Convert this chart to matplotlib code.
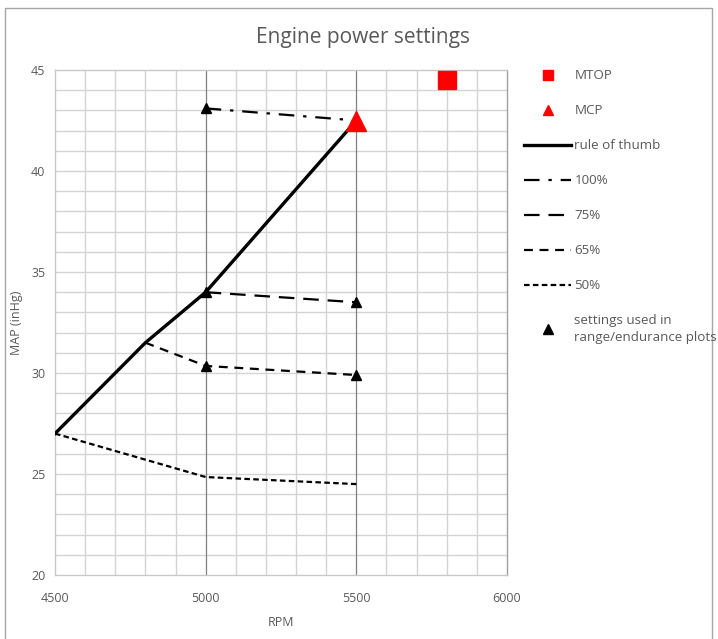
import matplotlib
matplotlib.use('Agg')
import matplotlib.pyplot as plt
from matplotlib.patches import Rectangle
from matplotlib.lines import Line2D
import numpy as np

plt.rcParams['font.family'] = ['Open Sans', 'DejaVu Sans']

# data
rot_rpm = [4500, 4800, 5000, 5500]
rot_map = [27.0, 31.5, 34.0, 42.5]
p100_rpm = [5000, 5500]
p100_map = [43.1, 42.5]
p75_rpm = [5000, 5500]
p75_map = [34.0, 33.5]
p65_rpm = [4800, 5000, 5500]
p65_map = [31.5, 30.35, 29.9]
p50_rpm = [4500, 5000, 5500]
p50_map = [27.0, 24.85, 24.5]
used_rpm = [5000, 5000, 5000, 5500, 5500]
used_map = [43.1, 34.0, 30.35, 33.5, 29.9]
mtop_rpm, mtop_map = [5800], [44.5]
mcp_rpm, mcp_map = [5500], [42.5]

txt = '#595959'
fig = plt.figure(figsize=(7.18, 6.39), dpi=100)
ax = fig.add_axes([55/718, 1-575/639, 452/718, 505/639])

# grid
for x in np.arange(4600, 6000, 100):
    if x % 500 == 0:
        ax.axvline(x, color='#808080', lw=0.9, zorder=1)
    else:
        ax.axvline(x, color='#d4d4d4', lw=1.0, zorder=0)
for y in np.arange(21, 45, 1):
    ax.axhline(y, color='#d4d4d4', lw=1.0, zorder=0)
for s in ax.spines.values():
    s.set_color('#c8c8c8')
    s.set_linewidth(1.0)
ax.spines['right'].set_color('#a0a0a0')

ax.plot(mtop_rpm, mtop_map, 's', color='#ff0000', ms=13.5, zorder=5)
ax.plot(rot_rpm, rot_map, '-', color='black', lw=2.4, zorder=3)
ax.plot(p100_rpm, p100_map, color='black', lw=1.6, dashes=[7, 4, 1.5, 4], zorder=3)
ax.plot(p75_rpm, p75_map, color='black', lw=1.6, dashes=[7, 4], zorder=3)
ax.plot(p65_rpm, p65_map, color='black', lw=1.6, dashes=[4, 3], zorder=3)
ax.plot(p50_rpm, p50_map, color='black', lw=1.6, dashes=[2.5, 1.5], zorder=3)
ax.plot(used_rpm, used_map, '^', color='black', ms=7, zorder=4)
ax.plot(mcp_rpm, mcp_map, '^', color='#ff0000', ms=14, zorder=5)

ax.set_xlim(4500, 6000)
ax.set_ylim(20, 45)
ax.set_xticks([4500, 5000, 5500, 6000])
ax.set_yticks([20, 25, 30, 35, 40, 45])
ax.tick_params(length=0, labelsize=9, labelcolor=txt)
ax.tick_params(axis='x', pad=12)
ax.tick_params(axis='y', pad=7)
ax.set_xlabel('RPM', fontsize=9, color=txt, labelpad=8)
ax.set_ylabel('MAP (inHg)', fontsize=9, color=txt, labelpad=6)
fig.text(363/718, 1-37/639, 'Engine power settings', ha='center', va='center',
         fontsize=15, color=txt)

handles = [
    Line2D([], [], ls='none', marker='s', color='#ff0000', ms=7),
    Line2D([], [], ls='none', marker='^', color='#ff0000', ms=7),
    Line2D([], [], color='black', lw=2.4),
    Line2D([], [], color='black', lw=1.6, dashes=[7, 4, 1.5, 4]),
    Line2D([], [], color='black', lw=1.6, dashes=[7, 4]),
    Line2D([], [], color='black', lw=1.6, dashes=[4, 3]),
    Line2D([], [], color='black', lw=1.6, dashes=[2.5, 1.5]),
    Line2D([], [], ls='none', marker='^', color='black', ms=7),
]
labels = ['MTOP', 'MCP', 'rule of thumb', '100%', '75%', '65%', '50%',
          'settings used in\nrange/endurance plots']
leg = fig.legend(handles, labels, loc='upper left',
                 bbox_to_anchor=(519/718, 1-64/639), frameon=False,
                 fontsize=9.6, handlelength=3.5, handletextpad=0.25,
                 labelspacing=1.65, borderaxespad=0)
for t in leg.get_texts():
    t.set_color(txt)
    t.set_linespacing(1.35)

fig.patches.append(Rectangle((5/718, -0.02), 707/718, 1.02-8/639,
                             transform=fig.transFigure, fill=False,
                             edgecolor='#a6a6a6', lw=1.0))

fig.savefig('out.png', dpi=100)
